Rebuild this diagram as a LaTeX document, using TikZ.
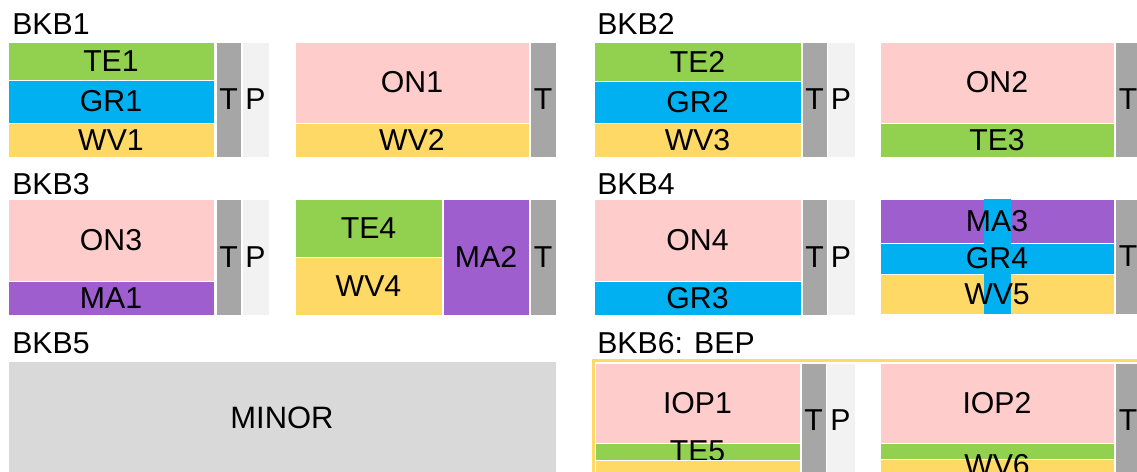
\documentclass[tikz,border=0pt]{standalone}
\usepackage{fontspec}
\setmainfont{Liberation Sans}
\usetikzlibrary{fit}
\definecolor{cellgreen}{HTML}{92D050}
\definecolor{cellblue}{HTML}{00B0F0}
\definecolor{cellyellow}{HTML}{FFD966}
\definecolor{cellpink}{HTML}{FFCCCC}
\definecolor{cellpurple}{HTML}{9E5ECE}
\definecolor{tgray}{HTML}{A6A6A6}
\definecolor{plight}{HTML}{F2F2F2}
\definecolor{minorgray}{HTML}{D9D9D9}

\begin{document}
\begin{tikzpicture}[x=0.025cm, y=-0.025cm,
  cell/.style={inner sep=0pt, outer sep=0pt, draw=white, line width=0.4pt},
  lbl/.style={inner sep=0pt, font=\fontsize{21.5}{26}\selectfont},
  head/.style={anchor=base west, inner sep=0pt, font=\fontsize{21.5}{26}\selectfont}]
  \clip (0,0) rectangle (1137,472);

  % \bkcell{name}{x1}{y1}{x2}{y2}{fill}{text}
  % One coloured block, fitted to its two corners (pixel units, y down),
  % with its text set on top of it.
  \newcommand{\bkcell}[7]{%
    \node[cell, fill=#6, fit={(#2,#3) (#4,#5)}] (#1) {};
    \node[lbl] (#1lbl) at (#1.center) {#7};}

  % ---------- row 1 ----------
  \node[head] (bkb1) at (12,35) {BKB1};
  \bkcell{te1}{8}{42}{214}{80}{cellgreen}{TE1}
  \bkcell{gr1}{8}{80}{214}{123}{cellblue}{GR1}
  \bkcell{wv1}{8}{123}{214}{157}{cellyellow}{WV1}
  \bkcell{t1}{216}{42}{241}{157}{tgray}{T}
  \bkcell{p1}{242}{42}{269}{157}{plight}{P}
  \bkcell{on1}{295}{42}{529}{123}{cellpink}{ON1}
  \bkcell{wv2}{295}{123}{529}{157}{cellyellow}{WV2}
  \bkcell{t2}{530}{42}{556}{157}{tgray}{T}

  \node[head] (bkb2) at (597,35) {BKB2};
  \bkcell{te2}{594}{42}{801}{81}{cellgreen}{TE2}
  \bkcell{gr2}{594}{81}{801}{123}{cellblue}{GR2}
  \bkcell{wv3}{594}{123}{801}{157}{cellyellow}{WV3}
  \bkcell{t3}{802}{42}{827}{157}{tgray}{T}
  \bkcell{p2}{827}{42}{855}{157}{plight}{P}
  \bkcell{on2}{880}{42}{1114}{123}{cellpink}{ON2}
  \bkcell{te3}{880}{123}{1114}{157}{cellgreen}{TE3}
  \bkcell{t4}{1115}{42}{1141}{157}{tgray}{T}

  % ---------- row 2 ----------
  \node[head] (bkb3) at (12,195) {BKB3};
  \bkcell{on3}{8}{199}{214}{281}{cellpink}{ON3}
  \bkcell{ma1}{8}{281}{214}{315}{cellpurple}{MA1}
  \bkcell{t5}{216}{199}{241}{315}{tgray}{T}
  \bkcell{p3}{242}{199}{269}{315}{plight}{P}
  \bkcell{te4}{295}{199}{442}{257}{cellgreen}{TE4}
  \bkcell{wv4}{295}{257}{442}{315}{cellyellow}{WV4}
  \bkcell{ma2}{443}{199}{529}{315}{cellpurple}{MA2}
  \bkcell{t6}{530}{199}{556}{315}{tgray}{T}

  \node[head] (bkb4) at (597,195) {BKB4};
  \bkcell{on4}{594}{199}{801}{281}{cellpink}{ON4}
  \bkcell{gr3}{594}{281}{801}{315}{cellblue}{GR3}
  \bkcell{t7}{802}{199}{827}{315}{tgray}{T}
  \bkcell{p4}{827}{199}{855}{315}{plight}{P}
  \node[cell, fill=cellpurple, fit={(880,199) (1114,243)}] (ma3) {};
  \node[cell, fill=cellblue, fit={(880,243) (1114,274)}] (gr4) {};
  \node[cell, fill=cellyellow, fit={(880,274) (1114,314)}] (wv5) {};
  \node[cell, draw=none, fill=cellblue, fit={(984,199) (1011,314)}] (grstrip) {};
  \node[lbl] (ma3lbl) at (ma3.center) {MA3};
  \node[lbl] (gr4lbl) at (gr4.center) {GR4};
  \node[lbl] (wv5lbl) at (wv5.center) {WV5};
  \bkcell{t8}{1115}{199}{1141}{314}{tgray}{T}

  % ---------- row 3 ----------
  \node[head] (bkb5) at (12,353) {BKB5};
  \node[cell, fill=minorgray, fit={(8,361) (556,475)}] (minor) {};
  \node[lbl, font=\fontsize{22}{26}\selectfont] (minorlbl) at (minor.center) {MINOR};

  \node[head] (bkb6) at (597,353) {BKB6: BEP};
  \draw[cellyellow, line width=0.075cm] (593.5,360.5) rectangle (1160,500);
  \bkcell{iop1}{595}{363}{800}{443}{cellpink}{IOP1}
  \bkcell{te5}{595}{443}{800}{460}{cellgreen}{TE5}
  \node[cell, fill=cellyellow, fit={(595,460) (800,490)}] (wvb) {};
  \bkcell{t9}{801}{363}{826}{477}{tgray}{T}
  \bkcell{p5}{826}{363}{855}{477}{plight}{P}
  \bkcell{iop2}{880}{363}{1114}{443}{cellpink}{IOP2}
  \node[cell, fill=cellgreen, fit={(880,443) (1114,459)}] (te6) {};
  \node[cell, fill=cellyellow, fit={(880,459) (1114,490)}] (wv6) {};
  \node[lbl] (wv6lbl) at (997,465) {WV6};
  \bkcell{t10}{1115}{363}{1141}{477}{tgray}{T}
\end{tikzpicture}
\end{document}
